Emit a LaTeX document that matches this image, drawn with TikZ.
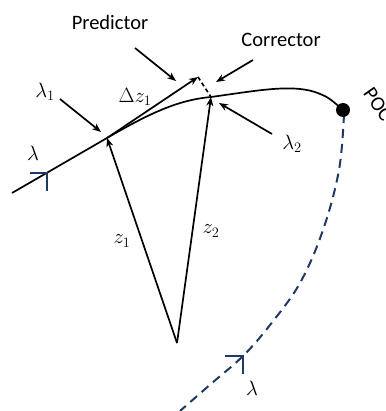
\documentclass[tikz,border=0pt]{standalone}
\usepackage{fontspec}
\setmainfont{Carlito}
\usetikzlibrary{arrows.meta}
\definecolor{navy}{HTML}{1F3864}
\tikzset{
  line/.style={line width=1.7pt},
  arr/.style={line width=1.7pt,-{Stealth[length=9pt,width=7pt]}},
  lbl/.style={font=\fontsize{20.5}{24}\selectfont, inner sep=1pt},
  mlbl/.style={font=\fontsize{22}{24}\selectfont, inner sep=1pt},
  tick/.style={navy, line width=2pt},
}
\begin{document}
\begin{tikzpicture}[x=1pt,y=-1pt]
\useasboundingbox (0,0) rectangle (385,411);
\clip (0,0) rectangle (385,411);
% key points
\coordinate (start) at (12,193);
\coordinate (l1) at (107,138);
\coordinate (pred) at (198,77);
\coordinate (l2) at (211,97);
\coordinate (base) at (177,343);
\coordinate (poc) at (343,110);
\coordinate (tickA) at (47,173);
\coordinate (tickB) at (243,356);
% main curve
\draw[line] (start) -- (l1) .. controls (150,113) and (178,100) .. (l2)
  .. controls (255,91) and (290,84) .. (315,92) .. controls (328,97) .. (poc);
% dashed blue curve
\draw[navy, line width=2pt, dash pattern=on 9pt off 6pt]
  plot[smooth, tension=0.6] coordinates {(344,114) (339,170) (323,230) (300,283) (270,325) (243,356) (212,383) (180,411)};
\fill (poc) circle (7);
% ticks
\draw[tick] (30,173) -- (tickA) -- (47,191);
\draw[tick] (225,356) -- (tickB) -- (243,374);
% predictor, corrector
\draw[arr] (l1) -- (pred);
\draw[line, dash pattern=on 4pt off 3pt] (pred) -- (l2);
\draw[arr] (base) -- (l1);
\draw[arr] (base) -- (l2);
% labels
\node[lbl] (tpred) at (110,22) {Predictor};
\node[lbl] (tcorr) at (281,40) {Corrector};
\node[lbl, rotate=-55] (tpoc) at (378,104) {POC};
\node[mlbl] (tl1) at (45,92) {$\lambda_1$};
\node[mlbl] (tdz) at (135,97) {$\Delta z_1$};
\node[mlbl] (tlam) at (33,153) {$\lambda$};
\node[mlbl] (tl2) at (292,144) {$\lambda_2$};
\node[mlbl] (tz1) at (122,241) {$z_1$};
\node[mlbl] (tz2) at (211,231) {$z_2$};
\node[mlbl] (tlam2) at (252,388) {$\lambda$};
% pointer arrows
\coordinate (pa) at (135,48); \coordinate (pb) at (176,81);
\coordinate (ca) at (253,60); \coordinate (cb) at (216,82);
\coordinate (la) at (60,99);  \coordinate (lb) at (101,132);
\coordinate (ma) at (272,134); \coordinate (mb) at (219,103);
\draw[arr] (pa) -- (pb);
\draw[arr] (ca) -- (cb);
\draw[arr] (la) -- (lb);
\draw[arr] (ma) -- (mb);
\end{tikzpicture}
\end{document}
